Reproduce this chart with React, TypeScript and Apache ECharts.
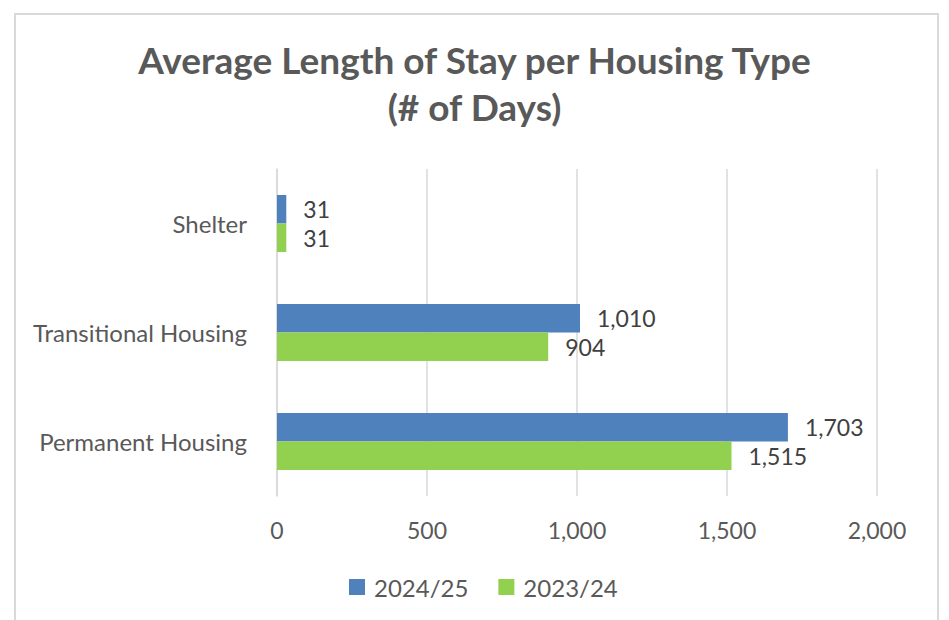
import React, { useEffect, useRef } from "react";
import * as echarts from "echarts";

const categories = ["Shelter", "Transitional Housing", "Permanent Housing"];
const seriesNames = ["2024/25", "2023/24"];
const values2024 = [31, 1010, 1703];
const values2023 = [31, 904, 1515];
const xTicks = [0, 500, 1000, 1500, 2000];
const titleLines = ["Average Length of Stay per Housing Type", "(# of Days)"];

const FONT = "Lato, 'Open Sans', sans-serif";
const TEXT = "#595959";
const BLUE = "#4F81BD";
const GREEN = "#92D050";
const GRID = "#d9d9d9";

const fmt = (v: number) => v.toLocaleString("en-US");

export default function App() {
  const ref = useRef<HTMLDivElement>(null);
  useEffect(() => {
    if (!ref.current) return;
    const chart = echarts.init(ref.current, null, { renderer: "svg" });
    chart.setOption({
      animation: false,
      backgroundColor: "#ffffff",
      textStyle: { fontFamily: FONT },
      title: {
        text: titleLines.join("\n"),
        left: "center",
        top: 31,
        textStyle: {
          fontFamily: FONT,
          fontWeight: "bold",
          fontSize: 37,
          lineHeight: 47,
          color: TEXT,
        },
      },
      graphic: [
        {
          type: "rect",
          shape: { x: 15, y: 14, width: 923, height: 700 },
          style: { fill: "none", stroke: GRID, lineWidth: 2 },
          silent: true,
          z: -1,
        },
      ],
      legend: {
        left: 344,
        top: 570,
        itemWidth: 16,
        itemHeight: 16,
        itemGap: 30,
        icon: "rect",
        data: seriesNames,
        textStyle: { fontFamily: FONT, fontSize: 24, color: TEXT, padding: [0, 0, 0, 4] },
      },
      grid: { left: 277, right: 72, top: 169, bottom: 124, containLabel: false },
      xAxis: {
        type: "value",
        min: xTicks[0],
        max: xTicks[xTicks.length - 1],
        interval: 500,
        axisLine: { show: false },
        axisTick: { show: false },
        splitLine: { show: true, lineStyle: { color: GRID, width: 1.5 } },
        axisLabel: {
          margin: 22,
          fontFamily: FONT,
          fontSize: 23,
          color: TEXT,
          formatter: (v: number) => fmt(v),
        },
      },
      yAxis: {
        type: "category",
        data: categories,
        inverse: true,
        axisLine: { show: true, lineStyle: { color: GRID, width: 1.5 } },
        axisTick: { show: false },
        axisLabel: { margin: 30, fontFamily: FONT, fontSize: 24, color: TEXT },
      },
      series: [
        {
          name: seriesNames[0],
          type: "bar",
          data: values2024,
          barWidth: 28.5,
          barGap: "0%",
          itemStyle: { color: BLUE },
          label: {
            show: true,
            position: "right",
            distance: 17,
            fontFamily: FONT,
            fontSize: 23,
            color: "#404040",
            formatter: (p: any) => fmt(p.value),
          },
        },
        {
          name: seriesNames[1],
          type: "bar",
          data: values2023,
          barWidth: 28.5,
          barGap: "0%",
          itemStyle: { color: GREEN },
          label: {
            show: true,
            position: "right",
            distance: 17,
            fontFamily: FONT,
            fontSize: 23,
            color: "#404040",
            formatter: (p: any) => fmt(p.value),
          },
        },
      ],
    });
    return () => chart.dispose();
  }, []);
  return <div ref={ref} style={{ width: 949, height: 620, position: "absolute", left: 0, top: 0 }} />;
}
